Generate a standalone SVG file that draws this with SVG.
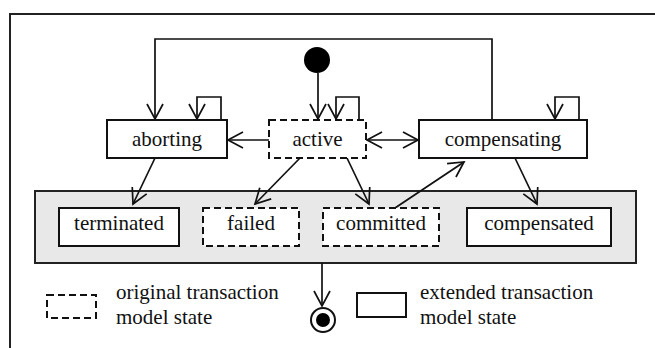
<svg xmlns="http://www.w3.org/2000/svg" width="655" height="348" viewBox="0 0 655 348">
<defs>
<style>
text{font-family:'Liberation Serif','Times New Roman','DejaVu Serif',serif;font-size:21px;fill:#111;}
.c{text-anchor:middle;}
.box{fill:#fff;stroke:#111;stroke-width:2;}
.dash{fill:#fff;stroke:#111;stroke-width:2;stroke-dasharray:7,4;}
.ln{fill:none;stroke:#111;stroke-width:1.7;}
</style>
<marker id="arr" markerUnits="userSpaceOnUse" markerWidth="20" markerHeight="20" viewBox="-17 -10 20 20" refX="0" refY="0" orient="auto-start-reverse">
<path d="M-15,-8 L0,0 L-15,8" fill="none" stroke="#111" stroke-width="1.7"/>
</marker>
</defs>
<rect width="655" height="348" fill="#fff"/>
<g id="frame">
<path d="M10,348 V14 H655" fill="none" stroke="#222" stroke-width="2"/>
</g>
<g id="final-container">
<rect x="35" y="191" width="601" height="72" fill="#e8e8e8" stroke="#222" stroke-width="2"/>
</g>
<g id="connectors">
<path class="ln" d="M492,120 V39 H155 V119" marker-end="url(#arr)"/>
<path class="ln" d="M221,120 V97 H197 V119" marker-end="url(#arr)"/>
<path class="ln" d="M359,120 V97 H336 V119" marker-end="url(#arr)"/>
<path class="ln" d="M579,120 V97 H555 V119" marker-end="url(#arr)"/>
<path class="ln" d="M318,73 V119" marker-end="url(#arr)"/>
<path class="ln" d="M269,140 H228" marker-end="url(#arr)"/>
<path class="ln" d="M367,140 H418" marker-start="url(#arr)" marker-end="url(#arr)"/>
<path class="ln" d="M155,158 L133,204" marker-end="url(#arr)"/>
<path class="ln" d="M300,158 L255,204" marker-end="url(#arr)"/>
<path class="ln" d="M347,158 L369,204" marker-end="url(#arr)"/>
<path class="ln" d="M395,208 L464,162" marker-end="url(#arr)"/>
<path class="ln" d="M515,158 L537,204" marker-end="url(#arr)"/>
<path class="ln" d="M322,263 V306" marker-end="url(#arr)"/>
</g>
<g id="initial">
<circle cx="317" cy="60" r="13" fill="#000"/>
</g>
<g id="aborting">
<rect class="box" x="107" y="120" width="120" height="38"/>
<text class="c" x="167" y="146">aborting</text>
</g>
<g id="active">
<rect class="dash" x="269" y="120" width="97" height="38"/>
<text class="c" x="317.5" y="146">active</text>
</g>
<g id="compensating">
<rect class="box" x="419" y="120" width="168" height="38"/>
<text class="c" x="503" y="146">compensating</text>
</g>
<g id="terminated">
<rect class="box" x="59" y="208" width="120" height="38"/>
<text class="c" x="119" y="230">terminated</text>
</g>
<g id="failed">
<rect class="dash" x="203" y="208" width="96" height="38"/>
<text class="c" x="251" y="230">failed</text>
</g>
<g id="committed">
<rect class="dash" x="323" y="208" width="116" height="38"/>
<text class="c" x="381" y="230">committed</text>
</g>
<g id="compensated">
<rect class="box" x="467" y="208" width="144" height="38"/>
<text class="c" x="539" y="230">compensated</text>
</g>
<g id="final">
<circle cx="323" cy="320" r="12" fill="#fff" stroke="#111" stroke-width="2"/>
<circle cx="323" cy="320" r="7" fill="#000"/>
</g>
<g id="legend-original">
<rect class="dash" x="47" y="295" width="49" height="23"/>
<text x="116" y="299">original transaction</text>
<text x="116" y="324">model state</text>
</g>
<g id="legend-extended">
<rect class="box" x="357" y="293" width="49" height="24"/>
<text x="420" y="299">extended transaction</text>
<text x="420" y="324">model state</text>
</g>
</svg>
